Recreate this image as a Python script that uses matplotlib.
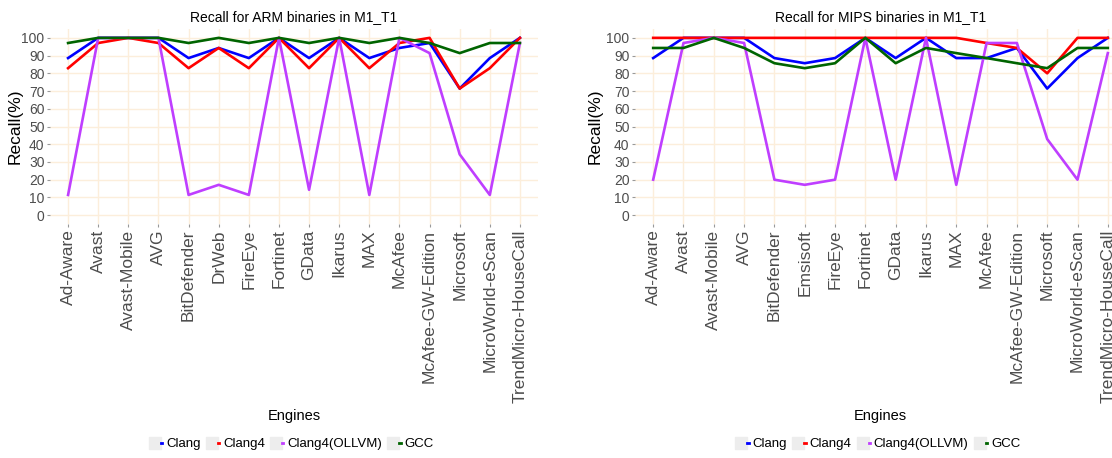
import numpy as np
import matplotlib
matplotlib.use("Agg")
import matplotlib.pyplot as plt
from matplotlib.lines import Line2D
from matplotlib.legend_handler import HandlerTuple

# engines on the x axis
arm_engines = ["Ad-Aware", "Avast", "Avast-Mobile", "AVG", "BitDefender", "DrWeb",
               "FireEye", "Fortinet", "GData", "Ikarus", "MAX", "McAfee",
               "McAfee-GW-Edition", "Microsoft", "MicroWorld-eScan", "TrendMicro-HouseCall"]
mips_engines = ["Ad-Aware", "Avast", "Avast-Mobile", "AVG", "BitDefender", "Emsisoft",
                "FireEye", "Fortinet", "GData", "Ikarus", "MAX", "McAfee",
                "McAfee-GW-Edition", "Microsoft", "MicroWorld-eScan", "TrendMicro-HouseCall"]

# recall values (%)
arm_clang = [88.6, 100, 100, 100, 88.6, 94.3, 88.6, 100, 88.6, 100, 88.6, 94.3, 97.1, 71.4, 88.6, 100]
arm_clang4 = [82.9, 97.1, 100, 97.1, 82.9, 94.3, 82.9, 100, 82.9, 100, 82.9, 97.1, 100, 71.4, 82.9, 100]
arm_ollvm = [11.4, 100, 100, 100, 11.4, 17.1, 11.4, 100, 14.3, 100, 11.4, 100, 91.4, 34.3, 11.4, 97.1]
arm_gcc = [97.1, 100, 100, 100, 97.1, 100, 97.1, 100, 97.1, 100, 97.1, 100, 97.1, 91.4, 97.1, 97.1]

mips_clang = [88.6, 100, 100, 100, 88.6, 85.7, 88.6, 100, 88.6, 100, 88.6, 88.6, 94.3, 71.4, 88.6, 100]
mips_clang4 = [100, 100, 100, 100, 100, 100, 100, 100, 100, 100, 100, 97.1, 94.3, 80.0, 100, 100]
mips_ollvm = [20.0, 97.1, 100, 97.1, 20.0, 17.1, 20.0, 100, 20.0, 100, 17.1, 97.1, 97.1, 42.9, 20.0, 91.4]
mips_gcc = [94.3, 94.3, 100, 94.3, 85.7, 82.9, 85.7, 100, 85.7, 94.3, 91.4, 88.6, 85.7, 82.9, 94.3, 94.3]

series_names = ["Clang", "Clang4", "Clang4(OLLVM)", "GCC"]
colors = ["#0000FF", "#FF0000", "#BF3EFF", "#006400"]

font = ["Liberation Sans", "DejaVu Sans"]
grid_col = "#FCEEDB"

fig = plt.figure(figsize=(11.12, 4.58), dpi=100)


def draw_panel(rect, engines, data, title, ylab_x):
    ax = fig.add_axes(rect)
    x = np.arange(len(engines))
    for vals, col in zip(data, colors):
        ax.plot(x, vals, color=col, lw=1.9, zorder=3)
    ax.set_xlim(-0.6, len(engines) - 0.4)
    ax.set_ylim(-5, 105)
    ax.set_yticks(range(0, 101, 10))
    ax.set_xticks(x)
    ax.set_xticklabels(engines, rotation=90, fontsize=12.5, family=font, color="#4D4D4D")
    for lab in ax.get_yticklabels():
        lab.set_family(font)
        lab.set_fontsize(10)
        lab.set_color("#4D4D4D")
    ax.tick_params(axis="both", length=2.5, width=0.8, color="#999999", pad=1.5)
    ax.grid(True, color=grid_col, lw=1.0, zorder=0)
    ax.set_axisbelow(True)
    for s in ax.spines.values():
        s.set_visible(False)
    ax.set_title(title, fontsize=10, family=font, pad=6)
    ax.set_xlabel("Engines", fontsize=10.5, family=font, labelpad=4.5)
    ax.set_ylabel("Recall(%)", fontsize=12.5, family=font)
    ax.yaxis.set_label_coords(ylab_x, 0.5)

    # legend keys: grey square with a short coloured dash, ggplot style
    handles = []
    for col in colors:
        bg = Line2D([], [], marker="s", markersize=8, color="#EDEDED", ls="")
        ln = Line2D([], [], color=col, lw=2)
        handles.append((bg, ln))
    cx = rect[0] + rect[2] / 2
    fig.legend(handles, series_names, loc="center", bbox_to_anchor=(cx, 1 - 444 / 458),
               ncol=4, frameon=False, handlelength=0.6, handletextpad=0.3,
               columnspacing=0.8, prop={"family": font, "size": 9.5},
               handler_map={tuple: HandlerTuple(ndivide=None)})
    return ax


draw_panel([50 / 1112, 234 / 458, 488 / 1112, 195 / 458], arm_engines,
           [arm_clang, arm_clang4, arm_ollvm, arm_gcc],
           "Recall for ARM binaries in M1_T1", -0.057)
draw_panel([635 / 1112, 234 / 458, 491 / 1112, 195 / 458], mips_engines,
           [mips_clang, mips_clang4, mips_ollvm, mips_gcc],
           "Recall for MIPS binaries in M1_T1", -0.065)

fig.savefig("out.png", dpi=100)
